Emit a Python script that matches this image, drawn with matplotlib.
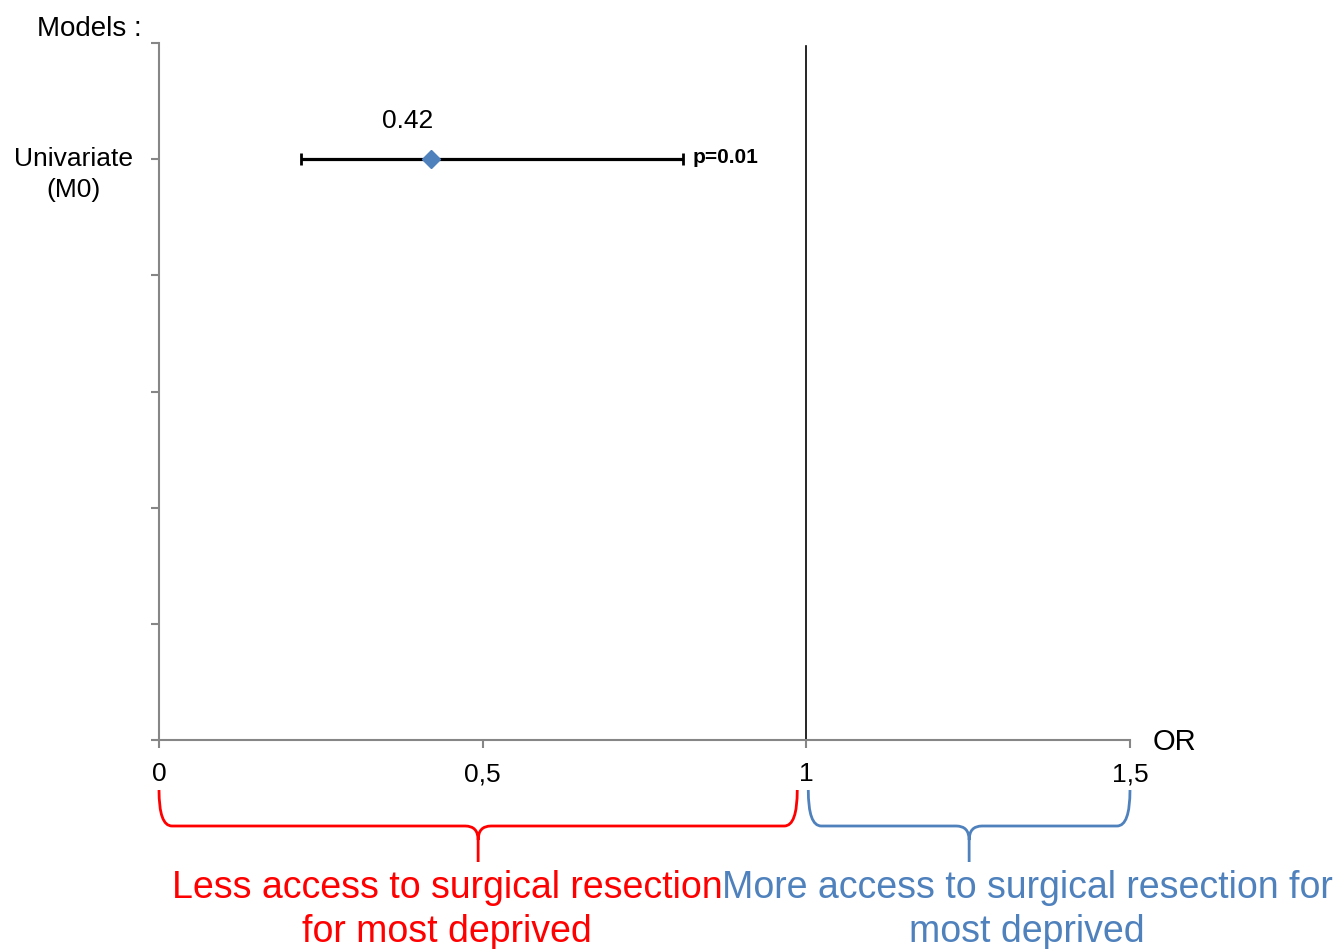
import matplotlib
matplotlib.use("Agg")
import matplotlib.pyplot as plt
from matplotlib.path import Path
from matplotlib.patches import PathPatch
from matplotlib import transforms

plt.rcParams["font.family"] = ["Liberation Sans", "DejaVu Sans"]

#
# Odds ratios per model
#
models = ["Univariate\n(M0)"]
model_pos = [5]
odds = [0.42]
ci_low = [0.22]
ci_high = [0.81]
p_labels = ["p=0.01"]

x_ticks = [0, 0.5, 1, 1.5]
x_ticklabels = ["0", "0,5", "1", "1,5"]

# Brace spans under the axis and their captions
brace_spans = [(0.0, 0.986), (1.003, 1.5)]
brace_texts = ["Less access to surgical resection\nfor most deprived",
               "More access to surgical resection for\nmost deprived"]
brace_colors = ["#FF0000", "#4F81BD"]

grey = "#868686"

fig = plt.figure(figsize=(13.36, 9.49), dpi=100)
ax = fig.add_axes([159 / 1336, 1 - 740 / 949, 971 / 1336, 697 / 949])

ax.set_xlim(0, 1.5)
ax.set_ylim(0, 6)

# Reference line at OR = 1
ax.axvline(1, ymin=0, ymax=0.9957, color="black", lw=1.2, zorder=1)

# Confidence intervals and point estimates
xerr = [[o - l for o, l in zip(odds, ci_low)], [h - o for o, h in zip(odds, ci_high)]]
ax.errorbar(odds, model_pos, xerr=xerr, fmt="none", ecolor="black",
            elinewidth=2.3, capsize=4, capthick=2, zorder=2)
ax.plot(odds, model_pos, linestyle="none", marker="D", ms=9,
        color="#4F81BD", zorder=3)

for o, y, hi, p in zip(odds, model_pos, ci_high, p_labels):
    ax.annotate(f"{o:.2f}", xy=(o, y), xytext=(-23, 38), textcoords="offset pixels",
                ha="center", va="center", fontsize=19)
    ax.annotate(p, xy=(hi, y), xytext=(9, 2), textcoords="offset pixels",
                ha="left", va="center", fontsize=15, fontweight="bold")

# Axes styling
for side in ["top", "right"]:
    ax.spines[side].set_visible(False)
for side in ["left", "bottom"]:
    ax.spines[side].set_color(grey)
    ax.spines[side].set_linewidth(1.5)

ax.set_xticks(x_ticks)
ax.set_xticklabels(x_ticklabels, fontsize=19)
ax.set_yticks(range(7))
ax.set_yticklabels([])
ax.tick_params(axis="both", color=grey, width=1.5, length=6)
ax.tick_params(axis="x", pad=10)

for name, y in zip(models, model_pos):
    ax.annotate(name, xy=(0, y), xycoords=("axes fraction", "data"),
                xytext=(-86, 12), textcoords="offset pixels",
                ha="center", va="top", fontsize=19, linespacing=1.38)

fig.text(89 / 1336, 1 - 29 / 949, "Models :", ha="center", va="center", fontsize=20)
fig.text(1174 / 1336, 1 - 742 / 949, "OR", ha="center", va="center", fontsize=21)

#
# Curly braces below the x axis
#
trans = transforms.blended_transform_factory(ax.transData, fig.transFigure)
y_top = 1 - 790 / 949
y_mid = 1 - 826 / 949
y_tip = 1 - 862 / 949
rx = 0.02
ry = 14 / 949

for (a, b), txt, col in zip(brace_spans, brace_texts, brace_colors):
    m = (a + b) / 2
    verts = [(a, y_top), (a, y_mid), (a + rx, y_mid),
             (m - rx, y_mid), (m, y_mid), (m, y_mid - ry),
             (m, y_tip),
             (m, y_mid - ry), (m, y_mid), (m + rx, y_mid),
             (b - rx, y_mid), (b, y_mid), (b, y_top)]
    codes = [Path.MOVETO, Path.CURVE3, Path.CURVE3,
             Path.LINETO, Path.CURVE3, Path.CURVE3,
             Path.LINETO,
             Path.MOVETO, Path.CURVE3, Path.CURVE3,
             Path.LINETO, Path.CURVE3, Path.CURVE3]
    patch = PathPatch(Path(verts, codes), transform=trans, fill=False,
                      edgecolor=col, lw=2, clip_on=False)
    fig.add_artist(patch)

fig.text(447 / 1336, 1 - 910 / 949, brace_texts[0], ha="center", va="center",
         fontsize=27, color=brace_colors[0], linespacing=1.3)
fig.text(1027 / 1336, 1 - 910 / 949, brace_texts[1], ha="center", va="center",
         fontsize=27, color=brace_colors[1], linespacing=1.3)

fig.savefig("out.png", dpi=100)
